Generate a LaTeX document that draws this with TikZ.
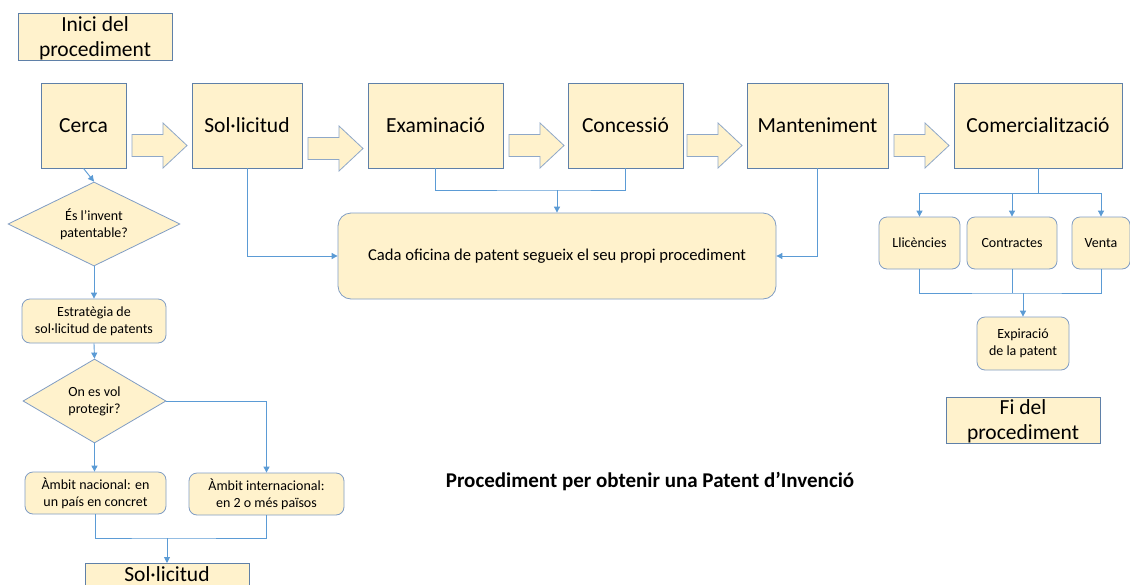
\documentclass[tikz,border=0pt]{standalone}
\usepackage{fontspec}
\setmainfont{Carlito}
\usetikzlibrary{shapes.geometric,arrows.meta}
\definecolor{fillc}{RGB}{255,242,204}
\definecolor{bordc}{RGB}{95,128,168}
\definecolor{rbordc}{RGB}{128,157,196}
\definecolor{arrc}{RGB}{143,168,200}
\definecolor{linec}{RGB}{91,155,213}
\begin{document}
\begin{tikzpicture}[x=1pt,y=-1pt,
  box/.style={draw=bordc, fill=fillc, line width=0.8pt, inner sep=0pt, align=center,
    font=\fontsize{21.5}{25}\selectfont},
  rbox/.style={draw=rbordc, fill=fillc, line width=0.8pt, inner sep=0pt, align=center,
    rounded corners=8pt, font=\fontsize{14}{17}\selectfont},
  dbox/.style={diamond, aspect=2, draw=rbordc, fill=fillc, line width=0.8pt, inner sep=0pt, align=center,
    font=\fontsize{14}{17}\selectfont},
  lineconn/.style={draw=linec, line width=0.9pt},
  conn/.style={lineconn, -{Triangle[length=6pt,width=6pt]}},
  barrow/.style={draw=arrc, fill=fillc, line width=0.8pt, line join=miter},
]
\useasboundingbox (0,0) rectangle (1130,584);
\fill[white] (0,0) rectangle (1130,584);

% top row
\node[box, minimum width=154, minimum height=47] (inici) at (95,36.5) {};
\node[font=\fontsize{21.5}{25}\selectfont, align=center, inner sep=0pt] (inicit) at (95,38.5) {Inici del\\procediment};
\node[box, minimum width=85, minimum height=85] (cerca) at (83.5,125.5) {Cerca};
\node[box, minimum width=110, minimum height=85] (sol) at (247,125.5) {Sol·licitud};
\node[box, minimum width=135, minimum height=85] (exam) at (435.5,125.5) {Examinació};
\node[box, minimum width=115, minimum height=85] (conc) at (625.5,125.5) {Concessió};
\node[box, minimum width=141, minimum height=85] (mant) at (817.5,125.5) {Manteniment};
\node[box, minimum width=168, minimum height=85] (com) at (1038,125.5) {Comercialització};

% block arrows
\foreach \x/\y in {132/145.5, 308/148.5, 509/145.5, 687/145.5, 894/145.5}{
  \draw[barrow] (\x,\y-11) -- (\x+31,\y-11) -- (\x+31,\y-22.5) -- (\x+55,\y)
    -- (\x+31,\y+22.5) -- (\x+31,\y+11) -- (\x,\y+11) -- cycle;
}

% middle
\node[rbox, rounded corners=13pt, minimum width=438, minimum height=86,
  font=\fontsize{16.6}{19}\selectfont] (cada) at (557,256)
  {Cada oficina de patent segueix el seu propi procediment};
\coordinate (j2) at (557,190);
\draw[lineconn] (exam.south) |- (j2) -| (conc.south);
\draw[conn] (j2) -- (cada.north);
\draw[conn] (sol.south) |- (cada.west);
\draw[conn] (mant.south) |- (cada.east);

% right branch
\node[rbox, minimum width=81, minimum height=52] (lic) at (919.5,243) {Llicències};
\node[rbox, minimum width=90, minimum height=52] (con) at (1012,243) {Contractes};
\node[rbox, minimum width=58, minimum height=52] (ven) at (1101,243) {Venta};
\node[rbox, minimum width=92, minimum height=53] (exp) at (1023,343.5) {Expiració\\de la patent};
\node[box, minimum width=154, minimum height=46] (fi) at (1023,420) {};
\node[font=\fontsize{21.5}{25}\selectfont, align=center, inner sep=0pt] (fit) at (1023,421.5) {Fi del\\procediment};
\coordinate (j3) at (1038,193);
\coordinate (j4) at (1023,293);
\draw[lineconn] (com.south) -- (j3);
\draw[conn] (j3) -| (lic.north);
\draw[conn] (j3) -| (ven.north);
\draw[conn] (con.north |- j3) -- (con.north);
\draw[lineconn] (lic.south) |- (j4) -| (ven.south);
\draw[lineconn] (con.south) -- (con.south |- j4);
\draw[conn] (j4) -- (exp.north);

% left column
\node[dbox, minimum width=172, minimum height=84] (d1) at (94,224) {És l’invent\\patentable?};
\node[rbox, minimum width=144, minimum height=44] (estr) at (94,321) {Estratègia de\\sol·licitud de patents};
\node[dbox, minimum width=143, minimum height=84] (d2) at (94.5,401) {On es vol\\protegir?};
\node[rbox, minimum width=141, minimum height=42] (nac) at (95.5,493) {Àmbit nacional: en\\un país en concret};
\node[rbox, minimum width=155, minimum height=42] (intl) at (266.5,494) {Àmbit internacional:\\en 2 o més països};
\node[box, minimum width=164, minimum height=40, anchor=north] (sol2) at (167,563) {};
\node[font=\fontsize{21.5}{25}\selectfont, inner sep=0pt, anchor=base] (sol2t) at (167,581) {Sol·licitud};
\coordinate (j1) at (167,538);
\draw[conn] (cerca.south) -- (d1.north);
\draw[conn] (d1.south) -- (estr.north);
\draw[conn] (estr.south) -- (d2.north);
\draw[conn] (d2.east) -| (intl.north);
\draw[conn] (d2.south) -- (d2.south |- nac.north);
\draw[lineconn] (nac.south) |- (j1) -| (intl.south);
\draw[conn] (j1) -- (sol2.north);

% title
\node[font=\fontsize{21}{24}\selectfont\bfseries, inner sep=0pt] (title) at (650,482)
  {Procediment per obtenir una Patent d’Invenció};
\end{tikzpicture}
\end{document}
